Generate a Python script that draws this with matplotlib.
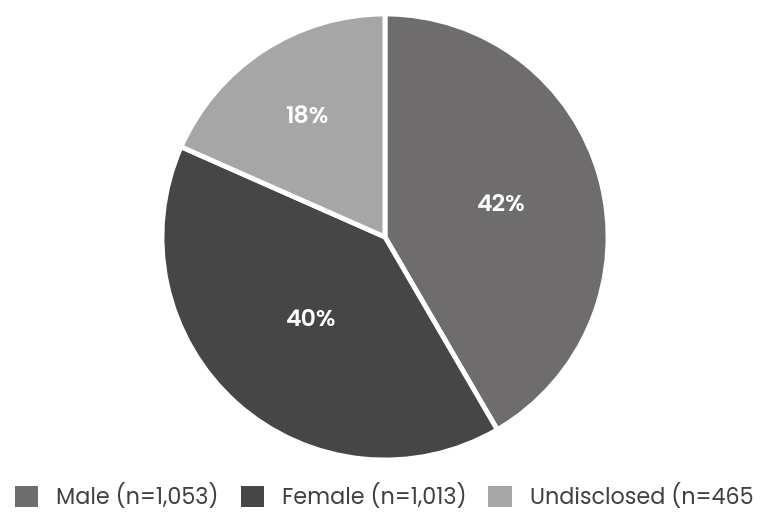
import numpy as np
import matplotlib.pyplot as plt
from matplotlib.patches import Patch

labels = ["Male (n=1,053)", "Female (n=1,013)", "Undisclosed (n=465"]
counts = [1053, 1013, 465]
colors = ["#6e6c6d", "#464646", "#a7a6a6"]
explode = [0.035, 0, 0]
label_dist = [0.54, 0.50, 0.64]

plt.rcParams["font.family"] = ["Poppins", "Open Sans", "DejaVu Sans"]

fig = plt.figure(figsize=(7.74, 5.14), dpi=100)
ax = fig.add_axes([0, 0, 1, 1])

wedges, texts = ax.pie(
    counts,
    colors=colors,
    explode=explode,
    startangle=90,
    counterclock=False,
    center=(385, 277),
    radius=223,
    frame=True,
    wedgeprops=dict(edgecolor="white", linewidth=3.5),
)

total = sum(counts)
for w, n, d in zip(wedges, counts, label_dist):
    ang = np.deg2rad((w.theta1 + w.theta2) / 2)
    cx, cy = w.center
    ax.text(cx + d * w.r * np.cos(ang), cy + d * w.r * np.sin(ang),
            f"{100 * n / total:.0f}%", ha="center", va="center",
            color="white", fontsize=17, fontweight="semibold")

ax.set_xlim(0, 774)
ax.set_ylim(0, 514)
ax.set_aspect("equal")
ax.axis("off")

handles = [Patch(facecolor=c, edgecolor="none") for c in colors]
fig.legend(
    handles,
    labels,
    ncol=3,
    loc="center left",
    bbox_to_anchor=(0.019, 0.033),
    frameon=False,
    fontsize=16,
    borderpad=0,
    borderaxespad=0,
    handlelength=1.05,
    handleheight=1.1,
    handletextpad=0.8,
    columnspacing=1.0,
    labelcolor="#404040",
)

fig.savefig("out.png", dpi=100)
